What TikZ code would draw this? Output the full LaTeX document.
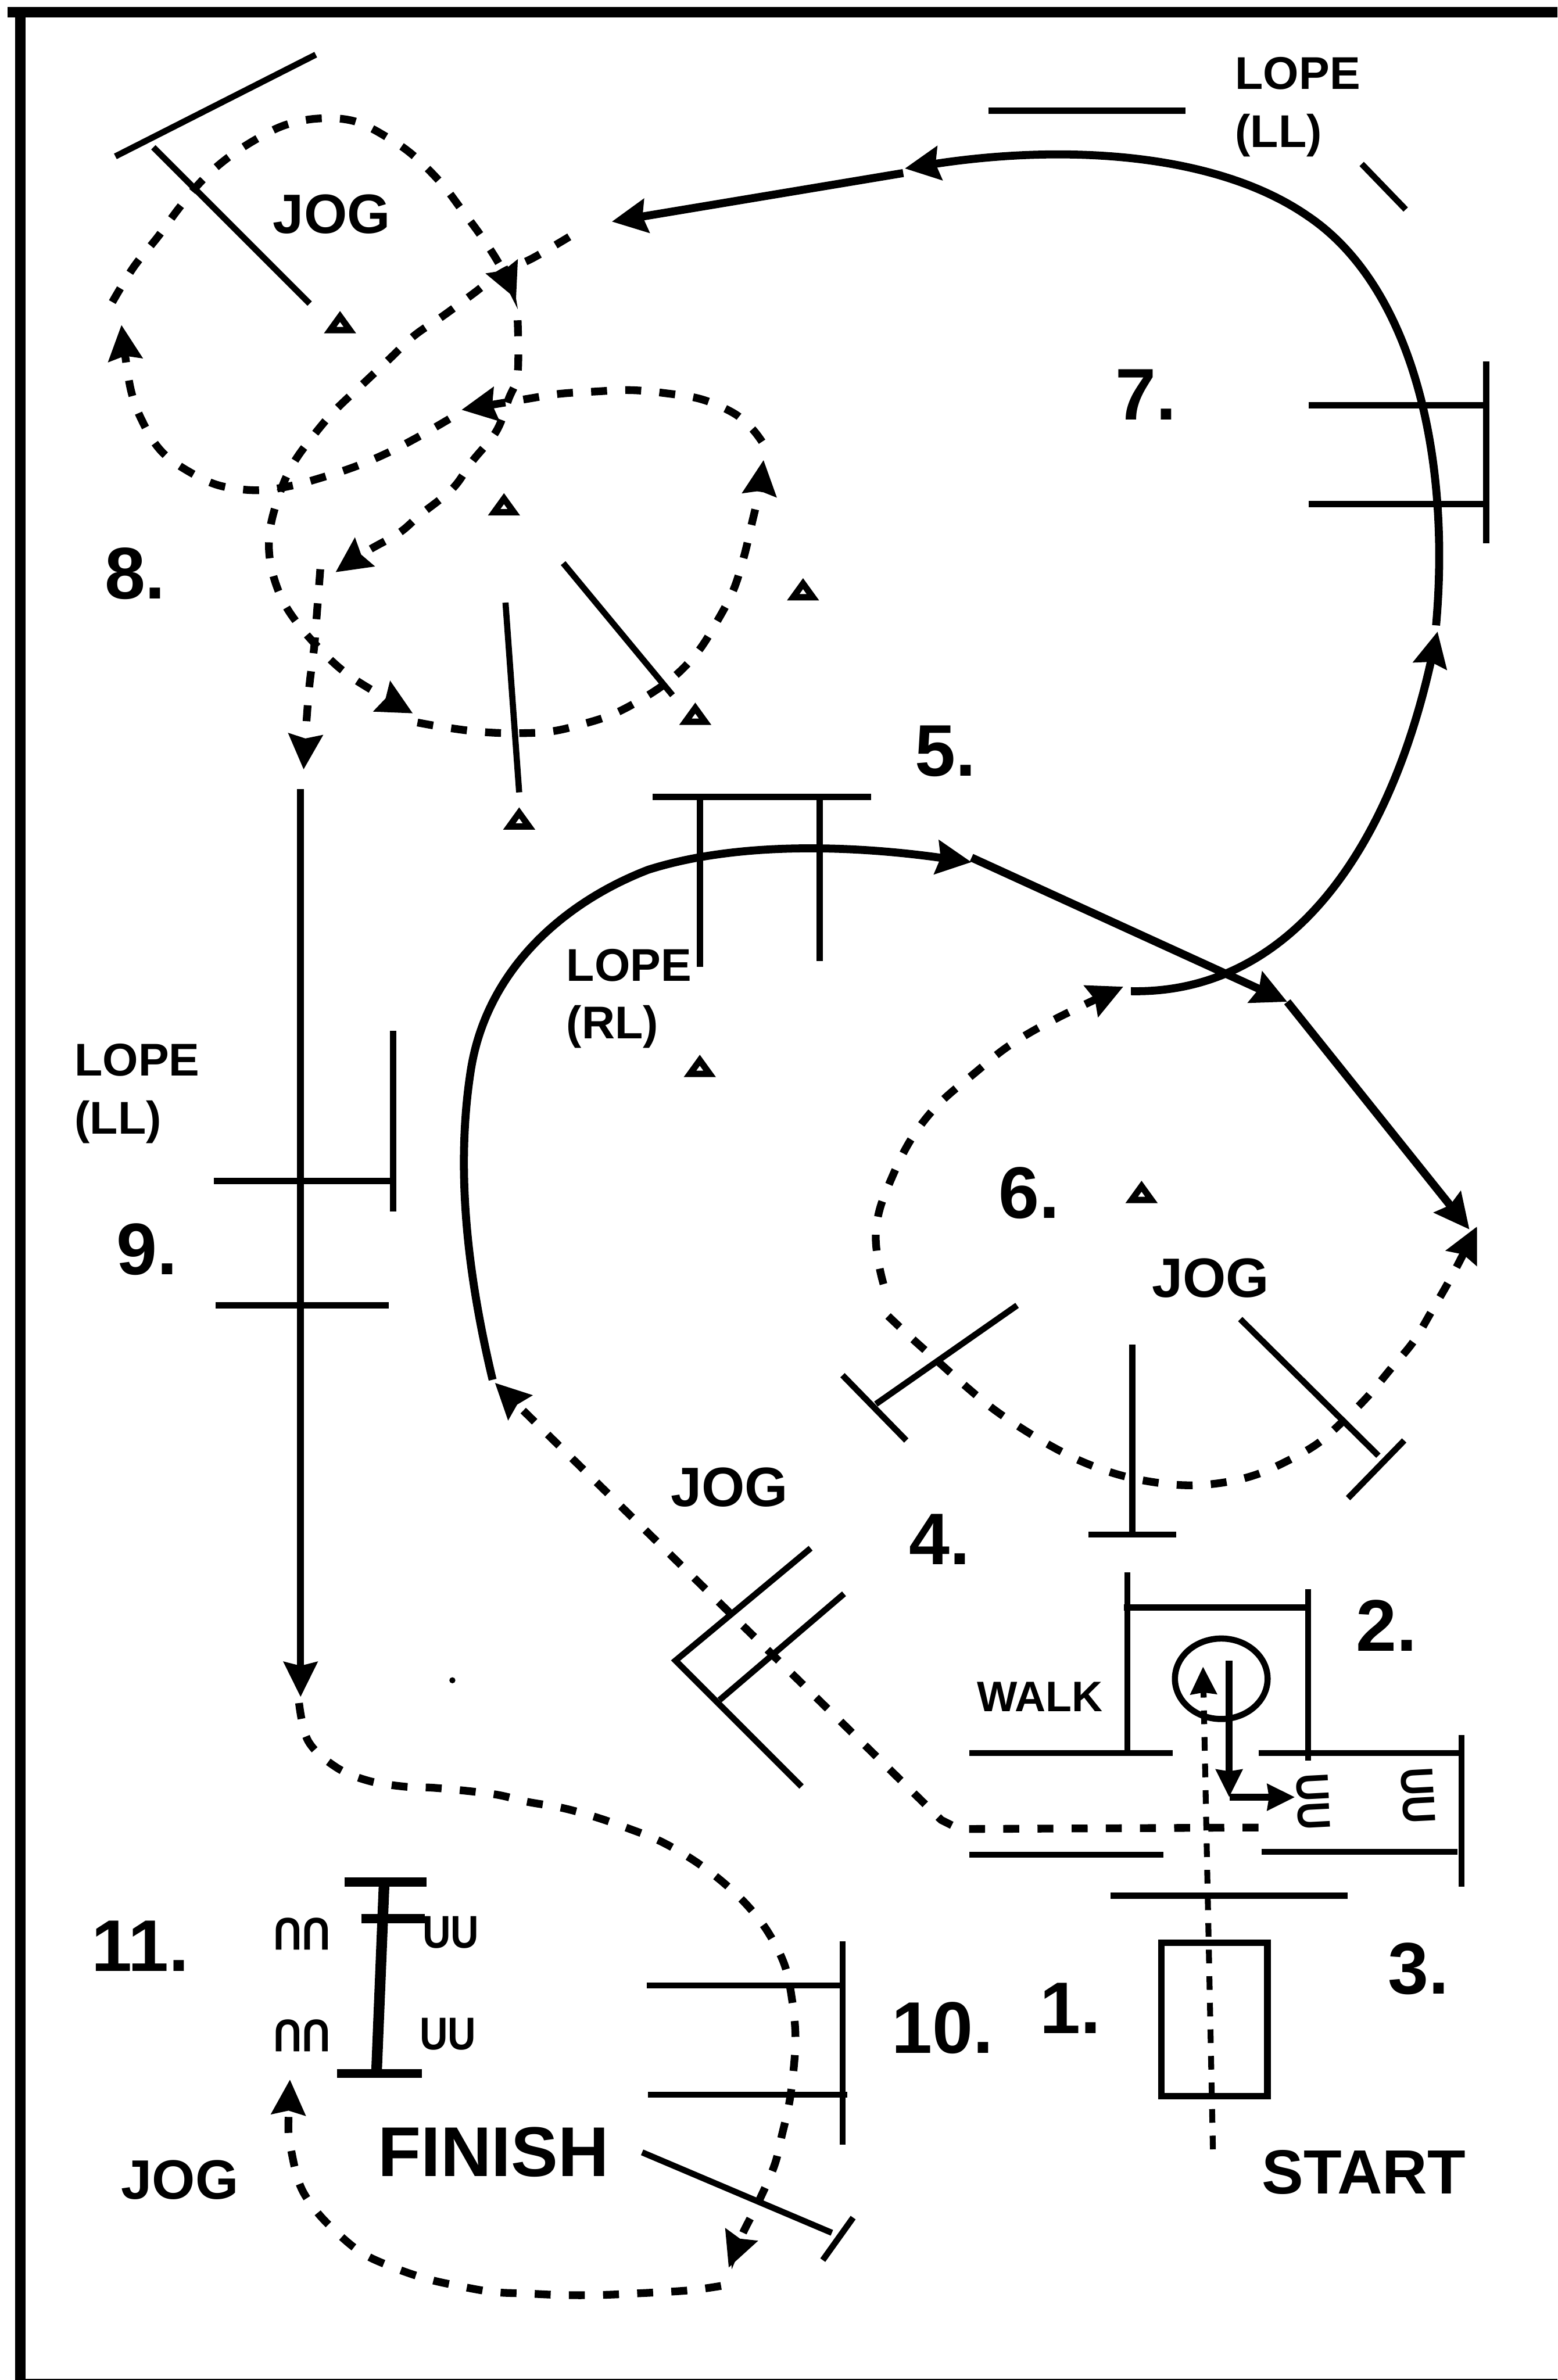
\documentclass[tikz,border=0pt]{standalone}
\usepackage{fontspec}
\setmainfont{Liberation Sans}
\usetikzlibrary{arrows.meta, shapes.geometric}
\tikzset{
  wall/.style={
    line width=2pt, draw=black,
  },
  pole/.style={
    line width=1.15pt, draw=black,
  },
  heavypole/.style={
    line width=1.7pt, draw=black,
  },
  lope/.style={
    line width=1.5pt, draw=black,
  },
  jog/.style={
    line width=1.45pt, draw=black, dash pattern=on 0.105cm off 0.12cm,
  },
  walk/.style={
    line width=1.25pt, draw=black,
  },
  tip/.style={
    -{Stealth[length=2.3mm, width=2.2mm, inset=0.25mm]},
  },
  smalltip/.style={
    -{Stealth[length=1.8mm, width=1.7mm, inset=0.1mm]},
  },
  steplabel/.style={
    font=\fontsize{13.7}{15}\selectfont\bfseries, inner sep=0pt,
  },
  gaitlabel/.style={
    font=\fontsize{10.4}{12}\selectfont\bfseries, inner sep=0pt,
  },
  lopelabel/.style={
    font=\fontsize{8.6}{10.8}\selectfont\bfseries, align=left,
    anchor=west, inner sep=0pt,
  },
  shoe/.style={
    font=\fontsize{8.6}{10}\selectfont\bfseries, inner sep=0pt,
  },
  cone/.pic={
    \draw[line width=1.2pt, miter limit=6] (-6.5,4.5) -- (0,-4.5) -- (6.5,4.5) -- cycle;
  },
}
\newcommand{\shoes}{\scalebox{0.85}[1]{UU}}

\begin{document}
\begin{tikzpicture}[x=0.01cm, y=-0.01cm]
  \useasboundingbox (0,0) rectangle (1026,1568);

  % Arena walls
  \draw[wall] (5,8) -- (1026,8);
  \draw[wall] (13.5,5) -- (13.5,1568);
  \draw[line width=0.2pt] (13.5,1567.5) -- (1026,1567.5);

  % Start box and walk-in
  \draw[walk] (765,1280) rectangle (835,1381);
  \draw[jog, line width=1.1pt, dash pattern=on 0.09cm off 0.085cm, smalltip] (799,1416) -- (792.5,1098);
  \node[ellipse, draw=black, line width=1.15pt, minimum width=0.61cm, minimum height=0.53cm,
    inner sep=0pt] (circle) at (804.5,1106) {};
  \draw[walk, smalltip] (809.7,1094) -- (809.7,1184);
  \draw[walk, smalltip] (810,1184) -- (853,1184);

  % Gates at the walk and the backup
  \draw[pole] (742.7,1036) -- (742.7,1153);
  \draw[pole] (740.5,1059) -- (863.7,1059);
  \draw[pole] (861.7,1047) -- (861.7,1160);
  \draw[pole] (638.7,1155) -- (772.5,1155);
  \draw[pole] (829,1155) -- (962.7,1155);
  \draw[pole] (962.7,1143) -- (962.7,1243);
  \draw[pole] (831,1220) -- (960,1220);
  \draw[pole] (638.7,1222) -- (766.5,1222);
  \draw[pole] (731.7,1249) -- (887.7,1249);
  \node[shoe, rotate=-87] (shoeA) at (865,1187) {\shoes};
  \node[shoe, rotate=-87] (shoeB) at (934,1183) {\shoes};

  % Jog to the lope corner
  \draw[jog, tip] (829,1204) -- (632,1205) -- (620,1199) -- (326,911);
  \draw[pole] (534,1020) -- (445,1094) -- (528,1177);
  \draw[pole] (556,1050) -- (474,1120);

  % First lope
  \draw[lope, tip] (324.5,909) .. controls (308,840) and (300,771) .. (310,706)
    .. controls (320,640) and (370,595) .. (427,573)
    .. controls (490,553) and (570,558) .. (640,568);
  \draw[lope, tip] (640,565) -- (848,660);
  \draw[lope, tip] (848,660) -- (968,810);
  \draw[pole] (430,525) -- (574,525);
  \draw[pole] (461,525) -- (461,637);
  \draw[pole] (540,525) -- (540,633);
  \pic at (461,703) {cone};

  % Jog circle at the right
  \draw[jog, tip] plot[smooth, tension=0.6] coordinates {(585,867) (601,882) (619,898)
    (637,914) (654,928) (673,941) (693,953) (713,963) (735,971) (757,976) (781,978.5)
    (804,977) (826,972) (847,963) (868,951) (885,936) (901,920) (916,902) (931,884)
    (943,864) (954,845) (963,828) (973,808)};
  \draw[jog, tip] plot[smooth, tension=0.7] coordinates {(582,846) (577,812) (587,777)
    (609,738) (642,707) (679,680) (740,650)};
  \draw[pole] (555,906) -- (597,949);
  \draw[pole] (577,925) -- (670,860);
  \draw[pole] (746,886) -- (746,1011);
  \draw[pole] (717,1011) -- (775,1011);
  \draw[pole] (817,869) -- (908,959);
  \draw[pole] (925,949) -- (888,987);
  \pic at (752,786) {cone};

  % Second lope
  \draw[lope, tip] (745,653) .. controls (850,655) and (915,560) .. (947,416);
  \draw[lope, tip] (946,412) .. controls (956,300) and (930,188) .. (861,142)
    .. controls (800,100) and (700,95) .. (596,111);
  \draw[lope, tip] (595,114) -- (403,146);
  \draw[pole] (651,73) -- (781,73);
  \draw[pole] (897,108) -- (926,138);
  \draw[pole] (979,238) -- (979,358);
  \draw[pole] (862,267) -- (979,267);
  \draw[pole] (862,332) -- (979,332);

  % Jog figure at the top left
  \draw[jog, tip] plot[smooth, tension=0.6] coordinates {(375,156) (351,170) (330,180)
    (311,194) (292,208) (273,221) (256,237) (239,253) (221,270) (208,285) (194,304)
    (185,323) (178,348) (178,370) (185,393) (197,412) (215,432) (230,445) (249,457)
    (272,470)};
  \draw[jog, tip] plot[smooth, tension=0.6] coordinates {(275,476) (292,479) (315,482)
    (337,483) (362,482) (384,477) (405,470) (427,458) (445,445) (460,429) (472,410)
    (483,389) (490,367) (495,346) (500,324) (503,303)};
  \draw[jog, tip] plot[smooth, tension=0.6] coordinates {(502,291) (495,282) (483,272)
    (462,263) (438,259) (415,257) (391,258) (368,259.5) (346,263) (304,270)};
  \draw[jog, tip] plot[smooth, tension=0.6] coordinates {(296,276) (277,287) (256,298)
    (235,307) (214,314) (192,320) (170,323) (145,320) (125,311) (107,298) (95,280)
    (86,256) (80,214)};
  \draw[jog, tip] plot[smooth, tension=0.6] coordinates {(74,199) (88,176) (104,156)
    (118,137) (133,119) (150,104) (170,91) (189,82) (211,78) (234,80) (256,91) (273,103)
    (291,121) (304,138) (318,157) (330,176) (340,197)};
  \draw[jog, tip] plot[smooth, tension=0.6] coordinates {(341,211) (341,246) (335,263)
    (327,284) (311,304) (298,322) (277,339) (263,351) (242,363) (221,377)};
  \draw[jog, tip] plot[smooth, tension=0.6] coordinates {(211,375) (209,401) (207,426)
    (204,450) (202,474) (200,507)};
  \draw[pole] (76,103) -- (208,36);
  \draw[pole] (101,97) -- (204,200);
  \draw[pole] (333,397) -- (342,522);
  \draw[pole] (371,371) -- (443,458);
  \pic at (224,213) {cone};
  \pic at (332,333) {cone};
  \pic at (529,389) {cone};
  \pic at (458,471) {cone};
  \pic at (342,540) {cone};

  % Long lope down the left side
  \draw[walk, tip] (198,520) -- (198,1118);
  \draw[pole] (259,679) -- (259,798);
  \draw[pole] (141,778) -- (259,778);
  \draw[pole] (142,860) -- (256,860);
  \fill (298,1107) circle (2);

  % Jog to the finish
  \draw[jog, tip] plot[smooth, tension=0.6] coordinates {(197,1122) (203,1147) (221,1164)
    (242,1173) (266,1177) (288,1178) (325,1182) (347,1187) (370,1191) (392,1197) (415,1205)
    (435,1213) (456,1225) (475,1239) (492,1255) (506,1273) (517,1295) (522,1319) (524,1341)
    (523,1361) (520,1385) (515,1407) (510,1427) (499,1452) (489,1472) (480,1494)};
  \draw[jog, tip] plot[smooth, tension=0.6] coordinates {(475,1506) (453,1509) (418,1511)
    (394,1512) (370,1512) (347,1511) (325,1510) (302,1506) (280,1501) (257,1493) (238,1484)
    (221,1470) (207,1455) (197,1438) (191,1412) (190,1399) (191,1370)};
  \draw[pole] (555,1279) -- (555,1413);
  \draw[pole] (426,1308) -- (555,1308);
  \draw[pole] (427,1380) -- (558,1380);
  \draw[pole] (423,1418) -- (548,1471);
  \draw[pole] (562,1461) -- (542,1489);

  % Last gate with the shoes
  \draw[heavypole, line width=2pt] (253,1242) -- (248,1366);
  \draw[heavypole] (227,1240) -- (281,1240);
  \draw[heavypole] (238,1264) -- (280,1264);
  \draw[heavypole] (222,1366) -- (278,1366);
  \node[shoe] (shoeC) at (297,1273) {\shoes};
  \node[shoe] (shoeD) at (295,1340) {\shoes};
  \node[shoe, rotate=180] (shoeE) at (199,1274) {\shoes};
  \node[shoe, rotate=180] (shoeF) at (199,1341) {\shoes};

  % Numbers
  \node[steplabel] (one) at (705,1323) {1.};
  \node[steplabel] (two) at (913.5,1071) {2.};
  \node[steplabel] (three) at (934.5,1297) {3.};
  \node[steplabel] (four) at (619,1014) {4.};
  \node[steplabel] (five) at (623,495) {5.};
  \node[steplabel] (six) at (678,786) {6.};
  \node[steplabel] (seven) at (755,260) {7.};
  \node[steplabel] (eight) at (89,378) {8.};
  \node[steplabel] (nine) at (97,823) {9.};
  \node[steplabel] (ten) at (621,1336) {10.};
  \node[steplabel] (eleven) at (92.5,1282) {11.};

  % Gait labels
  \node[gaitlabel] (jogA) at (218.5,141) {JOG};
  \node[gaitlabel] (jogB) at (797.5,842) {JOG};
  \node[gaitlabel] (jogC) at (480.5,980) {JOG};
  \node[gaitlabel] (jogD) at (118.5,1436) {JOG};
  \node[lopelabel] (lopeA) at (813,70.5) {LOPE\\(LL)};
  \node[lopelabel] (lopeB) at (372.5,658) {LOPE\\(RL)};
  \node[lopelabel] (lopeC) at (48.5,720.5) {LOPE\\(LL)};
  \node[font=\fontsize{8}{10}\selectfont\bfseries, inner sep=0pt] (walktext) at (685,1118) {WALK};
  \node[font=\fontsize{11.7}{13}\selectfont\bfseries, inner sep=0pt] (start) at (898.5,1431) {START};
  \node[font=\fontsize{13.2}{15}\selectfont\bfseries, inner sep=0pt] (finish) at (325,1418) {FINISH};

\end{tikzpicture}
\end{document}
